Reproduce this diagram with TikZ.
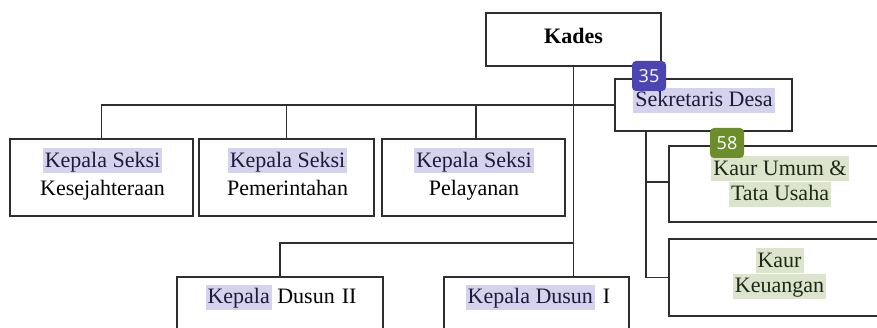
\documentclass[tikz,border=0pt]{standalone}
\usepackage{fontspec}
\setmainfont{Liberation Serif}
\newfontfamily\badgefont{Open Sans}

\definecolor{linegray}{HTML}{2E2E2E}
\definecolor{hlblue}{HTML}{D4D2EC}
\definecolor{hlgreen}{HTML}{DCE4CD}
\definecolor{inkblue}{HTML}{1C1B3A}
\definecolor{inkgreen}{HTML}{1E2816}
\definecolor{badgeblue}{HTML}{4A45B3}
\definecolor{badgegreen}{HTML}{6B8E2B}

% highlighted words: a full-line coloured band behind the text
\newcommand\hlb[1]{{\setlength\fboxsep{0pt}\colorbox{hlblue}{\rule[-6pt]{0pt}{25pt}\kern2pt\color{inkblue}#1\kern2pt}}}
\newcommand\hlg[1]{{\setlength\fboxsep{0pt}\colorbox{hlgreen}{\rule[-6pt]{0pt}{25pt}\kern2pt\color{inkgreen}#1\kern2pt}}}

\tikzset{
  orgbox/.style={draw=linegray, line width=1.6pt, inner sep=0pt, fill=white},
  conn/.style={draw=linegray, line width=1.6pt},
  label/.style={inner sep=0pt, align=center, font=\fontsize{22}{28}\selectfont},
  tight/.style={inner sep=0pt, align=center, font=\fontsize{22}{25.5}\selectfont},
  badge/.style={rounded corners=4pt, inner sep=0pt, minimum width=34pt,
    minimum height=30pt, text=white, font=\badgefont\fontsize{18}{18}\selectfont},
}

\begin{document}
\begin{tikzpicture}[x=1pt, y=-1pt]
\useasboundingbox (0,0) rectangle (877,328);
\clip (0,0) rectangle (877,328);

% boxes
\node[orgbox, minimum width=175pt, minimum height=53pt] (kades)  at (573.5,39.5) {};
\node[orgbox, minimum width=177pt, minimum height=52pt] (sekdes) at (703.5,105) {};
\node[orgbox, minimum width=183pt, minimum height=77pt] (seksi1) at (101.5,177.5) {};
\node[orgbox, minimum width=175pt, minimum height=77pt] (seksi2) at (286.5,177.5) {};
\node[orgbox, minimum width=183pt, minimum height=77pt] (seksi3) at (473.5,177.5) {};
\node[orgbox, minimum width=220pt, minimum height=76pt] (umum)   at (779,184) {};
\node[orgbox, minimum width=220pt, minimum height=77pt] (keu)    at (779,277.5) {};
\node[orgbox, minimum width=206pt, minimum height=80pt] (dusun2) at (280,317) {};
\node[orgbox, minimum width=185pt, minimum height=80pt] (dusun1) at (536.5,317) {};

% connectors
\draw[conn] (kades.south) -- (kades.south |- dusun1.north);
\draw[conn] (sekdes.west) -- (seksi1.north |- sekdes.west) -- (seksi1.north);
\draw[conn] (seksi2.north) -- (seksi2.north |- sekdes.west);
\draw[conn] (476,139) coordinate (s3top) -- (s3top |- sekdes.west);
\coordinate (trunkmid) at (573.5,243);
\draw[conn] (trunkmid) -- (dusun2.north |- trunkmid) -- (dusun2.north);
\coordinate (sekstem) at (646,131);
\draw[conn] (sekstem) -- (sekstem |- keu.west) -- (keu.west);
\draw[conn] (sekstem |- 0,182) coordinate (umumjoin) -- (umum.west |- umumjoin);

% texts
\node[label, anchor=base] (t-kades) at (573.5,44) {\bfseries Kades};
\node[label, anchor=base] (t-sekdes) at (704,107) {\hlb{Sekretaris Desa}};
\node[label, anchor=north] (t-seksi1) at (102.5,148) {\hlb{Kepala Seksi}\\Kesejahteraan};
\node[label, anchor=north] (t-seksi2) at (287.5,148) {\hlb{Kepala Seksi}\\Pemerintahan};
\node[label, anchor=north] (t-seksi3) at (474,148) {\hlb{Kepala Seksi}\\Pelayanan};
\node[tight, anchor=north] (t-umum) at (780,156) {\hlg{Kaur Umum \&}\\\hlg{Tata Usaha}};
\node[tight, anchor=north] (t-keu) at (779.5,248) {\hlg{Kaur}\\\hlg{Keuangan}};
\node[label, anchor=base] (t-dusun2) at (281,304) {\hlb{Kepala} Dusun\hspace{7pt}II};
\node[label, anchor=base] (t-dusun1) at (538,304) {\hlb{Kepala Dusun}\hspace{8pt}I};

% markers
\node[badge, fill=badgeblue] (b35) at (649,76) {35};
\node[badge, fill=badgegreen] (b58) at (727,143) {58};
\end{tikzpicture}
\end{document}
